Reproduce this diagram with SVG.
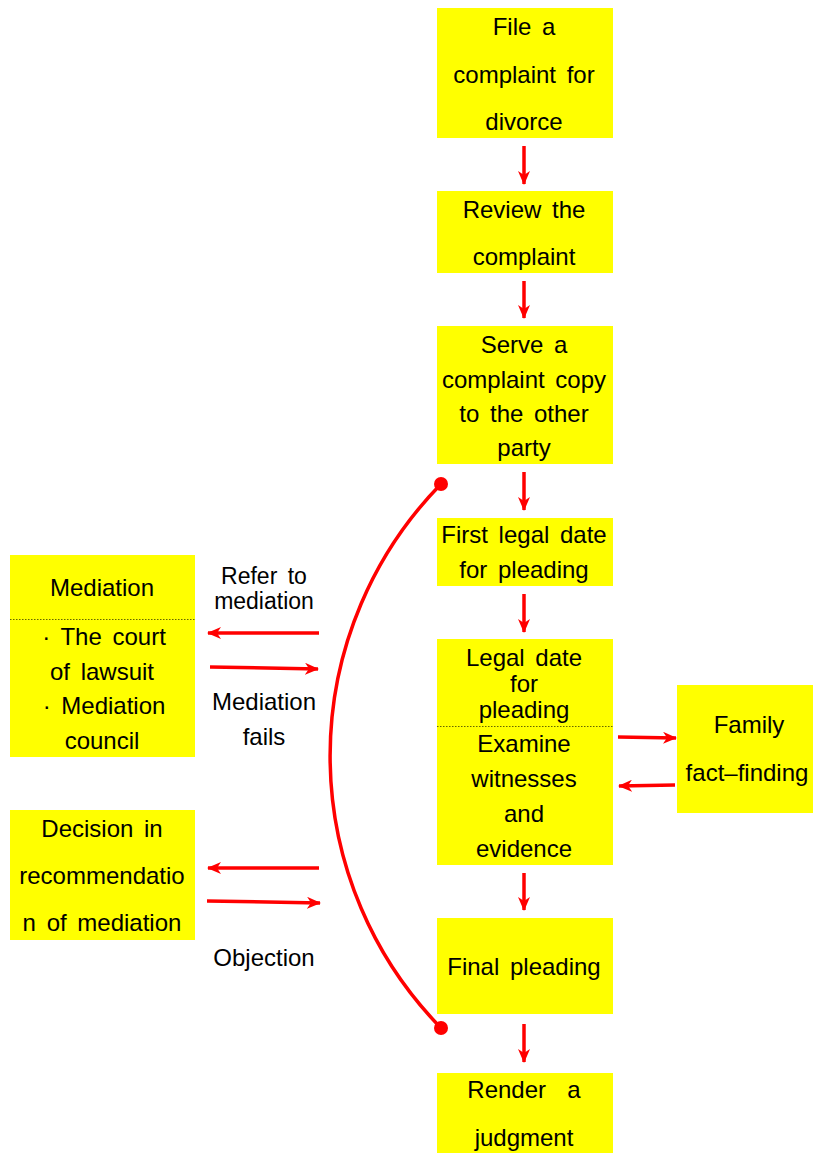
<svg xmlns="http://www.w3.org/2000/svg" width="814" height="1154" viewBox="0 0 814 1154">
<style>
.box{fill:#ffff00}
text{font-family:"Liberation Sans",Arial,sans-serif;font-size:24px;fill:#000;text-anchor:middle;word-spacing:4px}
.lbl{font-size:23px}
.c{stroke:#ff0000;stroke-width:3.5;fill:none}
.dot{stroke:#666600;stroke-width:1.2;stroke-dasharray:1.5 1.5}
</style>
<defs>
<marker id="ah" viewBox="0 0 14 12" refX="13" refY="6" markerWidth="14" markerHeight="12" markerUnits="userSpaceOnUse" orient="auto">
<path d="M0,0 L14,6 L0,12 L4,6 Z" fill="#ff0000"/>
</marker>
</defs>
<rect width="814" height="1154" fill="#fff"/>
<g id="n1"><rect class="box" x="437" y="8" width="176" height="130"/>
<text x="524" y="35">File a</text><text x="524" y="83">complaint for</text><text x="524" y="130">divorce</text></g>
<g id="n2"><rect class="box" x="437" y="191" width="176" height="82"/>
<text x="524" y="218">Review the</text><text x="524" y="265">complaint</text></g>
<g id="n3"><rect class="box" x="437" y="326" width="176" height="138"/>
<text x="524" y="353">Serve a</text><text x="524" y="388">complaint copy</text><text x="524" y="422">to the other</text><text x="524" y="456">party</text></g>
<g id="n4"><rect class="box" x="437" y="518" width="176" height="68"/>
<text x="524" y="543">First legal date</text><text x="524" y="578">for pleading</text></g>
<g id="n5"><rect class="box" x="437" y="639" width="176" height="226"/>
<line class="dot" x1="437" y1="726.5" x2="613" y2="726.5"/>
<text x="524" y="666">Legal date</text><text x="524" y="692">for</text><text x="524" y="718">pleading</text>
<text x="524" y="752">Examine</text><text x="524" y="787">witnesses</text><text x="524" y="822">and</text><text x="524" y="857">evidence</text></g>
<g id="n6"><rect class="box" x="677" y="685" width="136" height="128"/>
<text x="749" y="733">Family</text><text x="747" y="781">fact–finding</text></g>
<g id="n7"><rect class="box" x="10" y="555" width="185" height="202"/>
<line class="dot" x1="10" y1="619.5" x2="195" y2="619.5"/>
<text x="102" y="596">Mediation</text><text x="104" y="645">· The court</text><text x="102" y="680">of lawsuit</text><text x="104" y="714">· Mediation</text><text x="102" y="749">council</text></g>
<g id="n8"><rect class="box" x="10" y="810" width="185" height="130"/>
<text x="102" y="837">Decision in</text><text x="102" y="884">recommendatio</text><text x="102" y="931">n of mediation</text></g>
<g id="n9"><rect class="box" x="437" y="918" width="176" height="96"/>
<text x="524" y="975">Final pleading</text></g>
<g id="n10"><rect class="box" x="437" y="1073" width="176" height="80"/>
<text x="524" y="1098" xml:space="preserve">Render  a</text><text x="524" y="1146">judgment</text></g>
<g id="labels">
<text class="lbl" x="264" y="584">Refer to</text><text class="lbl" x="264" y="609">mediation</text>
<text x="264" y="710">Mediation</text><text x="264" y="745">fails</text>
<text x="264" y="966">Objection</text>
</g>
<g id="connectors">
<line class="c" x1="524" y1="146" x2="524" y2="184" marker-end="url(#ah)"/>
<line class="c" x1="524" y1="281" x2="524" y2="318" marker-end="url(#ah)"/>
<line class="c" x1="524" y1="472" x2="524" y2="510" marker-end="url(#ah)"/>
<line class="c" x1="524" y1="594" x2="524" y2="632" marker-end="url(#ah)"/>
<line class="c" x1="524" y1="873" x2="524" y2="910" marker-end="url(#ah)"/>
<line class="c" x1="524" y1="1024" x2="524" y2="1062" marker-end="url(#ah)"/>
<line class="c" x1="319" y1="633" x2="208" y2="633" marker-end="url(#ah)"/>
<line class="c" x1="210" y1="667" x2="318" y2="669" marker-end="url(#ah)"/>
<line class="c" x1="618" y1="737" x2="676" y2="738" marker-end="url(#ah)"/>
<line class="c" x1="675" y1="785" x2="619" y2="786" marker-end="url(#ah)"/>
<line class="c" x1="319" y1="868" x2="208" y2="868" marker-end="url(#ah)"/>
<line class="c" x1="207" y1="901" x2="320" y2="903" marker-end="url(#ah)"/>
<path class="c" d="M441,484 A389,389 0 0 0 441,1028"/>
<circle cx="441" cy="484" r="7" fill="#ff0000"/>
<circle cx="441" cy="1028" r="7" fill="#ff0000"/>
</g>
</svg>
